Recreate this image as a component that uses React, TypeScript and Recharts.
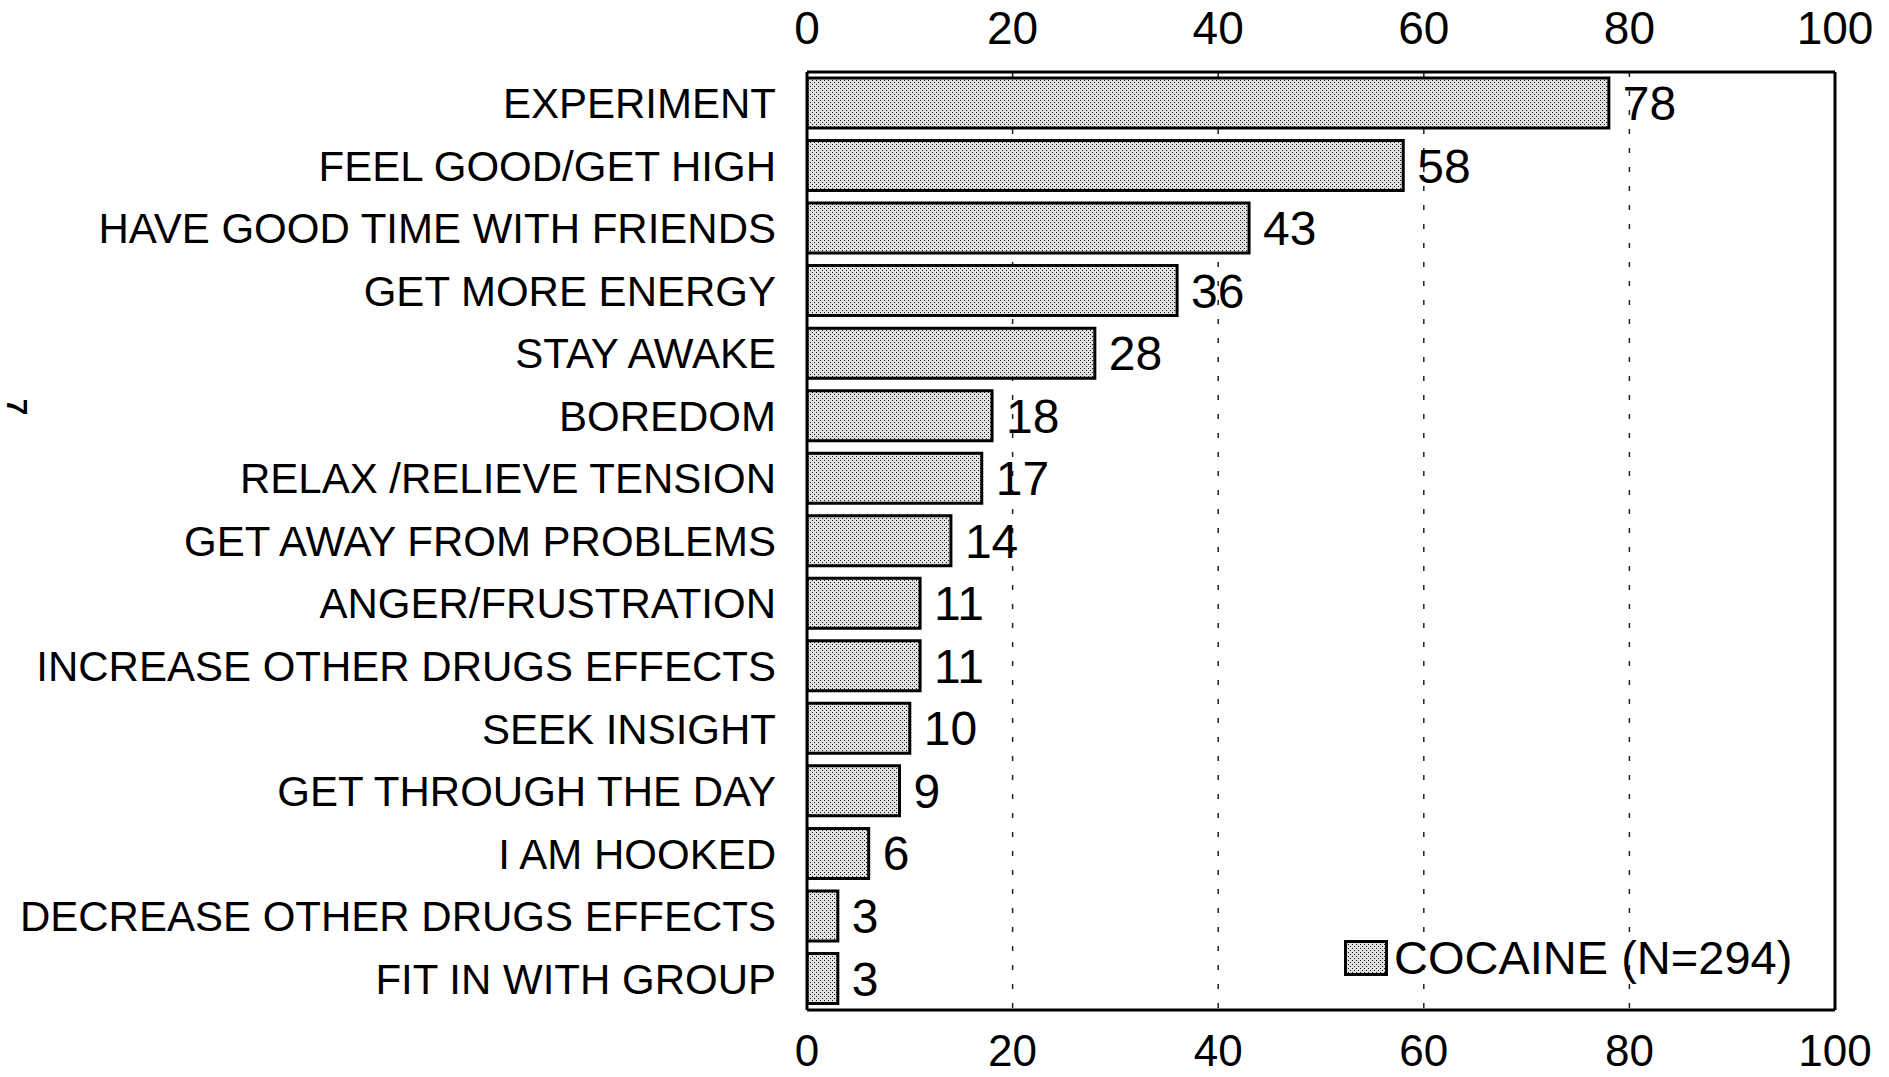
import { Bar, BarChart, CartesianGrid, LabelList, Legend, XAxis, YAxis } from "recharts"

const reasons = [
  "EXPERIMENT",
  "FEEL GOOD/GET HIGH",
  "HAVE GOOD TIME WITH FRIENDS",
  "GET MORE ENERGY",
  "STAY AWAKE",
  "BOREDOM",
  "RELAX /RELIEVE TENSION",
  "GET AWAY FROM PROBLEMS",
  "ANGER/FRUSTRATION",
  "INCREASE OTHER DRUGS EFFECTS",
  "SEEK INSIGHT",
  "GET THROUGH THE DAY",
  "I AM HOOKED",
  "DECREASE OTHER DRUGS EFFECTS",
  "FIT IN WITH GROUP"
]
const cocaine = [78, 58, 43, 36, 28, 18, 17, 14, 11, 11, 10, 9, 6, 3, 3]
const xTicks = [0, 20, 40, 60, 80, 100]
const legendLabel = "COCAINE (N=294)"

const data = reasons.map((name, i) => ({ name, cocaine: cocaine[i] }))

const font = '"Liberation Sans", Arial, Helvetica, sans-serif'
const frame = { stroke: "#000", strokeWidth: 3 }

const DotPattern = ({ id }: { id: string }) => (
  <pattern id={id} width={4} height={4} patternUnits="userSpaceOnUse">
    <rect width={4} height={4} fill="#e2e2e2" />
    <rect x={0} y={0} width={1} height={1} fill="#111" />
    <rect x={2} y={2} width={1} height={1} fill="#111" />
  </pattern>
)

const LegendBox = () => (
  <div
    style={{
      display: "flex",
      alignItems: "center",
      fontFamily: font,
      fontSize: 47,
      lineHeight: 1,
      color: "#000",
      whiteSpace: "nowrap"
    }}
  >
    <svg width={44} height={36} style={{ display: "block", marginRight: 6 }}>
      <defs>
        <DotPattern id="dotsLegend" />
      </defs>
      <rect x={1.5} y={1.5} width={41} height={33} fill="url(#dotsLegend)" stroke="#000" strokeWidth={3} />
    </svg>
    <span>{legendLabel}</span>
  </div>
)

const App = () => {
  return (
    <div style={{ position: "absolute", left: 0, top: 0, width: 1889, height: 1077, background: "#fff" }}>
      <div
        style={{
          position: "absolute",
          left: 9,
          top: 392,
          fontFamily: font,
          fontSize: 30,
          fontWeight: "bold",
          lineHeight: 1,
          transform: "rotate(90deg)"
        }}
      >
        7
      </div>
      <BarChart
        width={1889}
        height={1077}
        data={data}
        layout="vertical"
        barSize={50}
        barGap={-50}
        margin={{ top: 0, right: 0, bottom: 0, left: 0 }}
      >
        <defs>
          <DotPattern id="dots" />
        </defs>
        <CartesianGrid
          xAxisId="bottom"
          yAxisId="left"
          horizontal={false}
          stroke="#222"
          strokeWidth={1.5}
          strokeDasharray="5 14"
        />
        <XAxis
          xAxisId="top"
          orientation="top"
          type="number"
          domain={[0, 100]}
          allowDataOverflow
          ticks={xTicks}
          interval={0}
          height={72}
          tickSize={0}
          tickMargin={28}
          axisLine={frame}
          tick={{ fontSize: 46, fill: "#000", fontFamily: font }}
        />
        <XAxis
          xAxisId="bottom"
          orientation="bottom"
          type="number"
          domain={[0, 100]}
          allowDataOverflow
          ticks={xTicks}
          interval={0}
          height={67}
          tickSize={0}
          tickMargin={25}
          axisLine={frame}
          tick={{ fontSize: 44, fill: "#000", fontFamily: font }}
        />
        <YAxis
          yAxisId="left"
          type="category"
          dataKey="name"
          width={807}
          interval={0}
          tickSize={0}
          tickMargin={31}
          axisLine={frame}
          tick={{ fontSize: 42, fill: "#000", fontFamily: font }}
        />
        <YAxis
          yAxisId="right"
          orientation="right"
          type="category"
          dataKey="name"
          width={54}
          tick={false}
          tickLine={false}
          axisLine={frame}
        />
        <Legend
          layout="horizontal"
          verticalAlign="middle"
          align="center"
          wrapperStyle={{ left: 1344, top: 934, width: "auto" }}
          content={() => <LegendBox />}
        />
        {/* invisible twin so the top axis has a series of its own */}
        <Bar
          dataKey="cocaine"
          xAxisId="top"
          yAxisId="left"
          fill="none"
          stroke="none"
          legendType="none"
          isAnimationActive={false}
        />
        <Bar
          dataKey="cocaine"
          xAxisId="bottom"
          yAxisId="left"
          fill="url(#dots)"
          stroke="#000"
          strokeWidth={3}
          isAnimationActive={false}
        >
          <LabelList
            dataKey="cocaine"
            position="right"
            offset={14}
            fill="#000"
            fontSize={48}
            fontFamily={font}
          />
        </Bar>
      </BarChart>
    </div>
  )
}

export default App
